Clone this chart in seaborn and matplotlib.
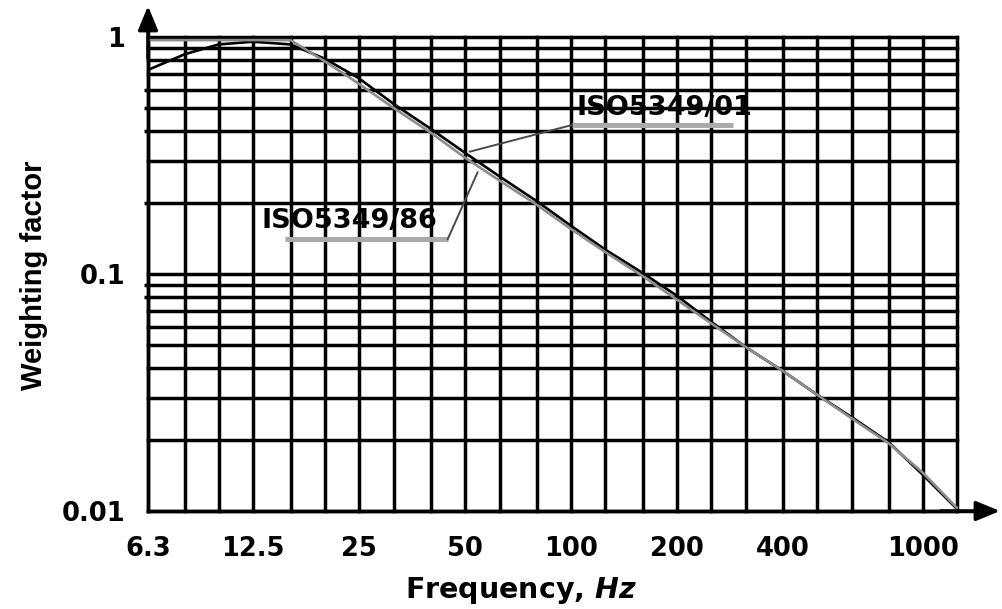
import matplotlib
matplotlib.use("Agg")
import matplotlib.pyplot as plt
from matplotlib.ticker import FixedLocator, NullLocator, NullFormatter
import seaborn as sns
import pandas as pd

# ---- data ----
freqs = [6.3, 8, 10, 12.5, 16, 20, 25, 31.5, 40, 50, 63, 80, 100, 125, 160,
         200, 250, 315, 400, 500, 630, 800, 1000, 1250]
w_iso01 = [0.726, 0.845, 0.93, 0.955, 0.93, 0.81, 0.67, 0.52, 0.41, 0.325,
           0.257, 0.203, 0.16, 0.127, 0.101, 0.081, 0.063, 0.049, 0.039,
           0.031, 0.0248, 0.0195, 0.0142, 0.0102]
w_iso86 = [0.97, 0.97, 0.97, 0.97, 0.97, 0.79, 0.635, 0.5, 0.395, 0.31,
           0.247, 0.196, 0.155, 0.124, 0.098, 0.078, 0.062, 0.049, 0.039,
           0.031, 0.0245, 0.0193, 0.0145, 0.0103]
series_names = ["ISO5349/01", "ISO5349/86"]
y_grid = [0.01, 0.02, 0.03, 0.04, 0.05, 0.06, 0.07, 0.08, 0.09,
          0.1, 0.2, 0.3, 0.4, 0.5, 0.6, 0.7, 0.8, 0.9, 1.0]
x_tick_vals = [6.3, 12.5, 25, 50, 100, 200, 400, 1000]
x_tick_labels = ["6.3", "12.5", "25", "50", "100", "200", "400", "1000"]
y_tick_vals = [0.01, 0.1, 1]
y_tick_labels = ["0.01", "0.1", "1"]
y_small_ticks = [0.6, 0.5, 0.4, 0.2, 0.09, 0.08]

df = pd.DataFrame({
    "Frequency": freqs * 2,
    "Weighting": w_iso01 + w_iso86,
    "Standard": [series_names[0]] * len(freqs) + [series_names[1]] * len(freqs),
})

sns.set_theme(style="white")
plt.rcParams["font.family"] = ["DejaVu Sans"]
plt.rcParams["font.weight"] = "bold"
plt.rcParams["mathtext.fontset"] = "custom"
plt.rcParams["mathtext.rm"] = "DejaVu Sans:bold"
plt.rcParams["mathtext.it"] = "DejaVu Sans:italic:bold"

fig = plt.figure(figsize=(10.02, 6.09), dpi=100)
fig.patch.set_facecolor("white")
ax = fig.add_axes([148 / 1002, 98 / 609, 852 / 1002, 503 / 609])
ax.set_facecolor("white")

ax.set_xscale("log")
ax.set_yscale("log")
ax.set_xlim(6.3, 1656)
ax.set_ylim(0.01, 1.325)

# grid (drawn only over the chart area 6.3..1250 Hz, 0.01..1)
lw_grid = 2.5
ax.vlines(freqs, y_grid[0], y_grid[-1], colors="black", lw=lw_grid,
          capstyle="projecting", zorder=1, clip_on=False)
ax.hlines(y_grid, freqs[0], freqs[-1], colors="black", lw=lw_grid,
          capstyle="projecting", zorder=1, clip_on=False)

sns.lineplot(data=df, x="Frequency", y="Weighting", hue="Standard",
             palette={series_names[0]: "black", series_names[1]: "#8c8c8c"},
             linewidth=1.9, legend=False, ax=ax, zorder=3, sort=True)

# axes look
for s in ["top", "right"]:
    ax.spines[s].set_visible(False)
for s in ["left", "bottom"]:
    ax.spines[s].set_visible(True)
    ax.spines[s].set_color("black")
    ax.spines[s].set_linewidth(lw_grid)
ax.spines["left"].set_bounds(0.01, 1.2)
ax.spines["bottom"].set_bounds(6.3, 1500)

arrow_kw = dict(arrowstyle="-|>,head_length=1.45,head_width=0.6",
                color="black", lw=lw_grid, shrinkA=0, shrinkB=0,
                mutation_scale=10)
ax.annotate("", xy=(1, 0), xycoords="axes fraction", xytext=(0.93, 0),
            arrowprops=arrow_kw, annotation_clip=False)
ax.annotate("", xy=(0, 1.004), xycoords="axes fraction", xytext=(0, 0.9),
            arrowprops=arrow_kw, annotation_clip=False)

ax.set_xticks(x_tick_vals)
ax.set_xticklabels(x_tick_labels)
ax.xaxis.set_minor_locator(NullLocator())
ax.set_yticks(y_tick_vals)
ax.set_yticklabels(y_tick_labels)
ax.yaxis.set_minor_locator(FixedLocator(y_small_ticks))
ax.yaxis.set_minor_formatter(NullFormatter())
ax.tick_params(axis="x", which="major", length=0, pad=18, labelsize=18.5,
               colors="black")
ax.tick_params(axis="y", which="major", length=0, pad=16.5, labelsize=18.5,
               colors="black")
ax.tick_params(axis="y", which="minor", length=3, width=lw_grid,
               direction="out", left=True, color="black")
ax.tick_params(axis="x", which="both", bottom=False)
ax.grid(False)

ax.set_xlabel("Frequency, $Hz$", fontsize=20.5, fontweight="bold", color="black")
ax.xaxis.set_label_coords(0.4378, -0.128)
ax.set_ylabel("Weighting factor", fontsize=21, fontweight="bold", color="black",
              family=["Liberation Sans", "DejaVu Sans"])
ax.yaxis.set_label_coords(-0.1174, 0.469)

# curve labels with underline and leader line
ax.text(104, 0.469, series_names[0], fontsize=19.5, fontweight="bold",
        ha="left", va="baseline", color="black", zorder=4)
ax.plot([100.7, 288], [0.425, 0.425], color="#aaaaaa", lw=3.6,
        solid_capstyle="butt", zorder=4)
ax.plot([100.7, 51.6], [0.425, 0.328], color="#4a4a4a", lw=1.4, zorder=4)

ax.text(13.25, 0.156, series_names[1], fontsize=19.5, fontweight="bold",
        ha="left", va="baseline", color="black", zorder=4)
ax.plot([15.4, 44.7], [0.140, 0.140], color="#aaaaaa", lw=3.6,
        solid_capstyle="butt", zorder=4)
ax.plot([44.7, 54.4], [0.140, 0.269], color="#4a4a4a", lw=1.4, zorder=4)

fig.savefig("out.png", dpi=100, facecolor="white")
